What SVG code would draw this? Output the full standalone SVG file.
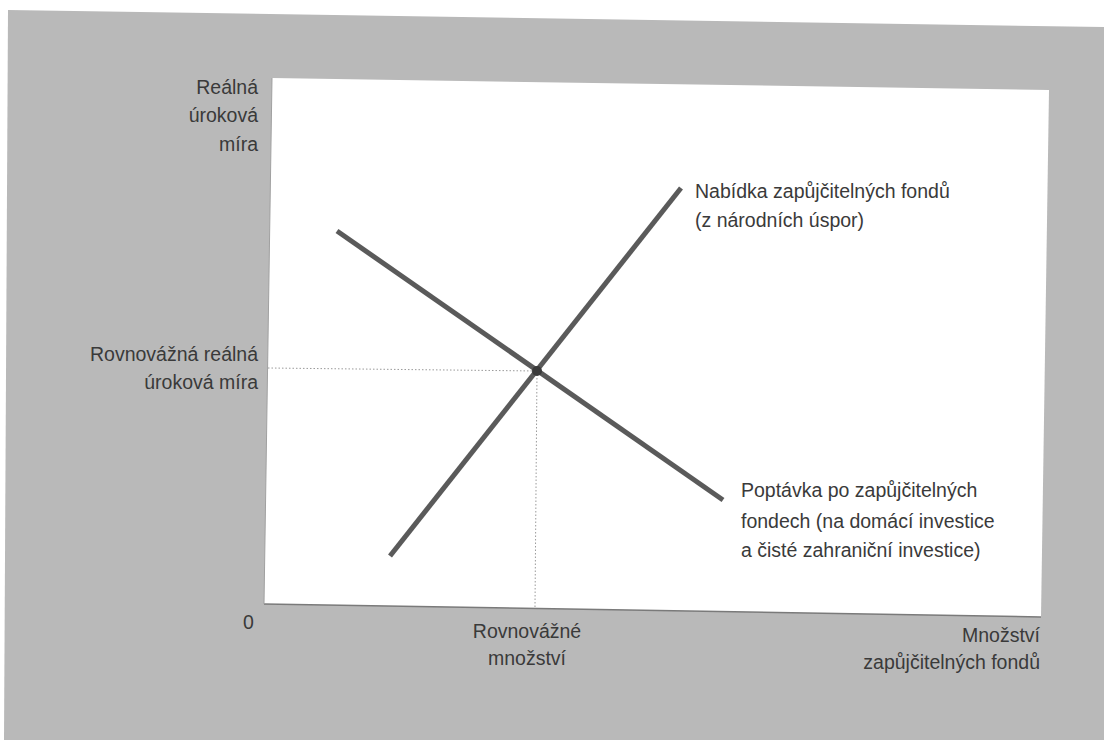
<svg xmlns="http://www.w3.org/2000/svg" width="1104" height="740" viewBox="0 0 1104 740">
<style>
.t{font-family:"Liberation Sans","DejaVu Sans",sans-serif;font-size:19.5px;fill:#3a3a3a}
.r{text-anchor:end}
.m{text-anchor:middle}
.curve{stroke:#5a5a5a;stroke-width:5;stroke-linecap:butt;fill:none}
.dot{stroke:#9a9a9a;stroke-width:1;stroke-dasharray:1.5 2;fill:none}
</style>
<rect x="0" y="0" width="1104" height="740" fill="#ffffff"/>
<polygon points="8,10 1104,27 1104,740 4,740" fill="#b9b9b9"/>
<g id="plot">
<polygon points="272,78 1049,90 1041,617 264,604" fill="#ffffff"/>
<line x1="264" y1="604" x2="1041" y2="617" stroke="#7a7a7a" stroke-width="1.5"/>
<line x1="272" y1="78" x2="264" y2="604" stroke="#a0a0a0" stroke-width="1"/>
</g>
<g id="connectors">
<line class="dot" x1="268" y1="368" x2="537" y2="371"/>
<line class="dot" x1="537" y1="371" x2="535" y2="607"/>
<line id="demand" class="curve" x1="337" y1="231" x2="723" y2="500"/>
<line id="supply" class="curve" x1="390" y1="556" x2="681" y2="188"/>
<circle cx="537" cy="371" r="5" fill="#3a3a3a"/>
</g>
<g id="yaxis-label">
<text class="t r" x="258" y="94">Reálná</text>
<text class="t r" x="258" y="122">úroková</text>
<text class="t r" x="258" y="151">míra</text>
</g>
<g id="eq-rate">
<text class="t r" x="258" y="361">Rovnovážná reálná</text>
<text class="t r" x="258" y="389">úroková míra</text>
</g>
<g id="origin"><text class="t" x="243" y="629">0</text></g>
<g id="eq-qty">
<text class="t m" x="527" y="638">Rovnovážné</text>
<text class="t m" x="527" y="665">množství</text>
</g>
<g id="xaxis-label">
<text class="t r" x="1040" y="642">Množství</text>
<text class="t r" x="1040" y="669">zapůjčitelných fondů</text>
</g>
<g id="supply-label">
<text class="t" x="695" y="198">Nabídka zapůjčitelných fondů</text>
<text class="t" x="695" y="227">(z národních úspor)</text>
</g>
<g id="demand-label">
<text class="t" x="741" y="497">Poptávka po zapůjčitelných</text>
<text class="t" x="741" y="528">fondech (na domácí investice</text>
<text class="t" x="741" y="557">a čisté zahraniční investice)</text>
</g>
</svg>
